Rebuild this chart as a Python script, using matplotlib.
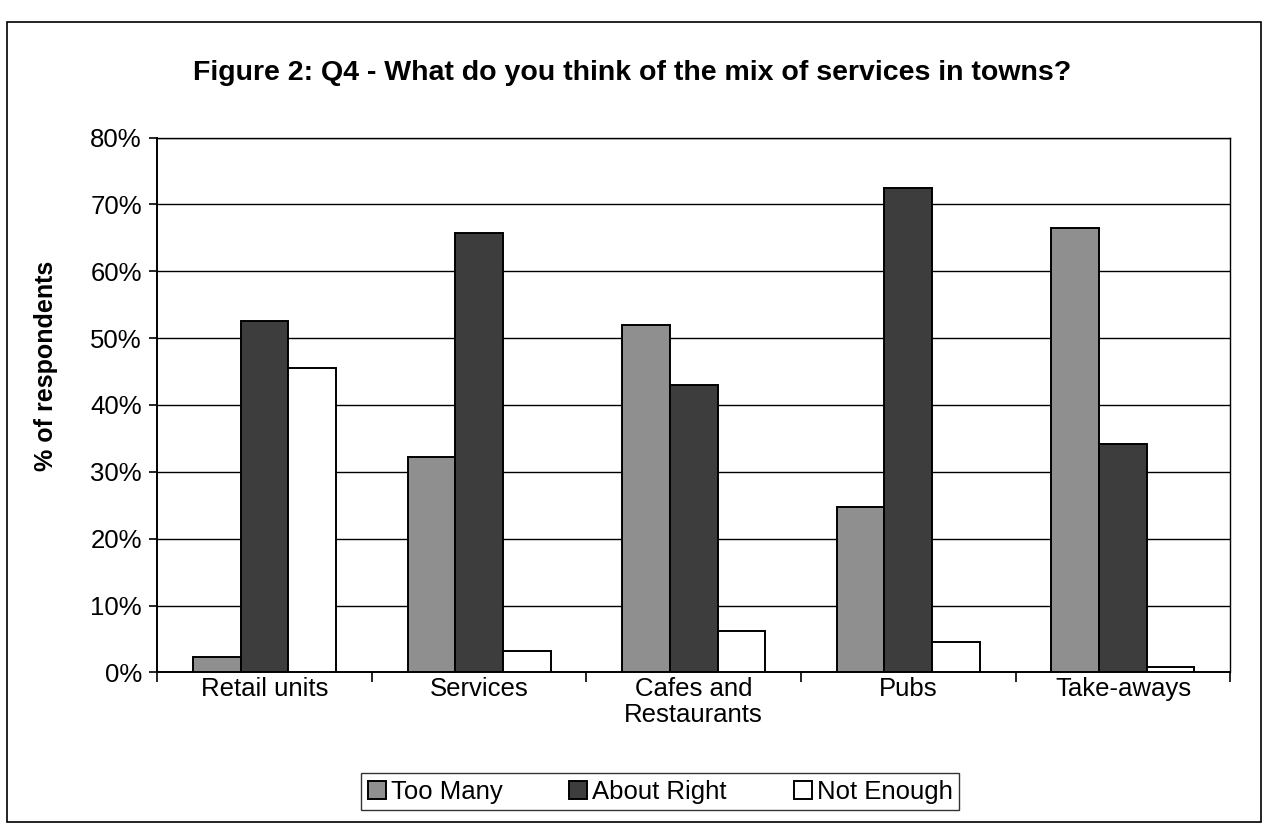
import numpy as np
import matplotlib
matplotlib.use("Agg")
import matplotlib.pyplot as plt
from matplotlib.patches import Rectangle
from matplotlib.ticker import PercentFormatter, FixedLocator

plt.rcParams["font.family"] = ["Liberation Sans", "DejaVu Sans"]

categories = ["Retail units", "Services", "Cafes and\nRestaurants", "Pubs", "Take-aways"]
too_many = [2.3, 32.2, 52.0, 24.8, 66.5]
about_right = [52.5, 65.8, 43.0, 72.5, 34.2]
not_enough = [45.5, 3.2, 6.2, 4.5, 0.8]

series = [
    ("Too Many", too_many, "#8f8f8f"),
    ("About Right", about_right, "#3d3d3d"),
    ("Not Enough", not_enough, "white"),
]

fig = plt.figure(figsize=(12.67, 8.24), dpi=100)
ax = fig.add_axes([0.124, 0.184, 0.847, 0.649])

x = np.arange(len(categories))
w = 1 / 4.5
for i, (name, vals, col) in enumerate(series):
    ax.bar(x + (i - 1) * w, vals, width=w, color=col, edgecolor="black",
           linewidth=1.4, label=name, zorder=3)

ax.set_xlim(-0.5, len(categories) - 0.5)
ax.set_ylim(0, 80)
ax.set_yticks(np.arange(0, 81, 10))
ax.yaxis.set_major_formatter(PercentFormatter(decimals=0))
ax.grid(axis="y", color="black", linewidth=1.0, zorder=0)
ax.set_xticks(x)
ax.set_xticklabels(categories, fontsize=18.5, linespacing=1.15)
ax.tick_params(axis="x", which="major", length=0, pad=3)
ax.xaxis.set_minor_locator(FixedLocator(np.arange(-0.5, len(categories), 1.0)))
ax.tick_params(axis="x", which="minor", length=7, width=1.2, direction="out")
ax.tick_params(axis="y", labelsize=18.5, length=6, width=1.2, pad=5)
for s in ["left", "bottom"]:
    ax.spines[s].set_linewidth(1.4)
for s in ["top", "right"]:
    ax.spines[s].set_linewidth(1.0)

fig.text(0.499, 0.911, "Figure 2: Q4 - What do you think of the mix of services in towns?",
         ha="center", va="center", fontsize=20.5, fontweight="bold")
fig.text(0.036, 0.556, "% of respondents", rotation=90, ha="center", va="center",
         fontsize=18, fontweight="bold")

leg = fig.legend(loc="center", bbox_to_anchor=(0.521, 0.039), ncol=3, fontsize=18.5,
                 frameon=True, fancybox=False, edgecolor="black", handlelength=0.7,
                 handleheight=0.7, handletextpad=0.2, columnspacing=2.6,
                 borderpad=0.25)
leg.get_frame().set_linewidth(1.0)

fig.patches.append(Rectangle((7 / 1267, 2 / 824), 1254 / 1267, 800 / 824,
                             transform=fig.transFigure, fill=False,
                             edgecolor="black", linewidth=1.2))

fig.savefig("out.png", dpi=100)
